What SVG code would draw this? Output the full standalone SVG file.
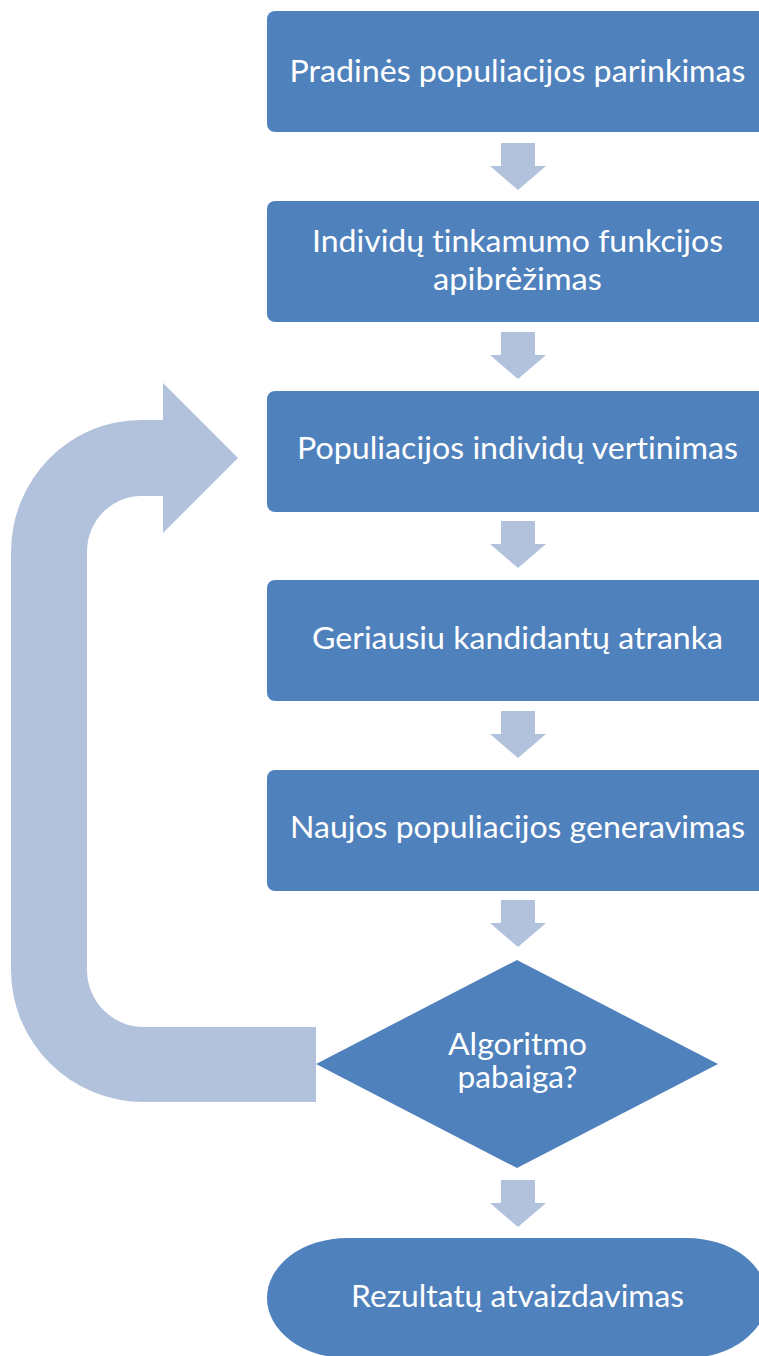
<svg xmlns="http://www.w3.org/2000/svg" width="759" height="1356" viewBox="0 0 759 1356">
<style>
.node{fill:#4F81BD}
.arr{fill:#B2C2DD}
.t{font-family:Lato,"Open Sans","Liberation Sans",sans-serif;font-size:30px;fill:#FFFFFF;text-anchor:middle;font-variant-ligatures:none}
</style>
<defs>
<path id="dn" d="M-17,0 H17 V23 H28 L0,47 L-28,23 H-17 Z"/>
</defs>
<rect width="759" height="1356" fill="#FFFFFF"/>
<g id="connectors">
<use href="#dn" class="arr" x="518" y="143"/>
<use href="#dn" class="arr" x="518" y="332"/>
<use href="#dn" class="arr" x="518" y="521"/>
<use href="#dn" class="arr" x="518" y="711"/>
<use href="#dn" class="arr" x="518" y="900"/>
<use href="#dn" class="arr" x="518" y="1180"/>
<path id="loop" class="arr" d="M316,1102 L144,1102 A133,132 0 0 1 11,970 L11,552 A130,132 0 0 1 141,420 L163,420 L163,383 L238,458 L163,533 L163,496 L141,496 A54,56 0 0 0 87,552 L87,970 A57,57 0 0 0 144,1027 L316,1027 Z"/>
</g>
<g id="n1">
<rect class="node" x="267" y="11" width="500" height="121" rx="8"/>
<text class="t" x="517.5" y="82" textLength="456" lengthAdjust="spacingAndGlyphs">Pradinės populiacijos parinkimas</text>
</g>
<g id="n2">
<rect class="node" x="267" y="201" width="500" height="121" rx="8"/>
<text class="t" x="517.5" y="252" textLength="411" lengthAdjust="spacingAndGlyphs">Individų tinkamumo funkcijos</text>
<text class="t" x="517.5" y="290" textLength="169" lengthAdjust="spacingAndGlyphs">apibrėžimas</text>
</g>
<g id="n3">
<rect class="node" x="267" y="391" width="500" height="121" rx="8"/>
<text class="t" x="517.5" y="459" textLength="441" lengthAdjust="spacingAndGlyphs">Populiacijos individų vertinimas</text>
</g>
<g id="n4">
<rect class="node" x="267" y="580" width="500" height="121" rx="8"/>
<text class="t" x="517.5" y="649" textLength="411" lengthAdjust="spacingAndGlyphs">Geriausiu kandidantų atranka</text>
</g>
<g id="n5">
<rect class="node" x="267" y="770" width="500" height="121" rx="8"/>
<text class="t" x="517.5" y="838" textLength="455" lengthAdjust="spacingAndGlyphs">Naujos populiacijos generavimas</text>
</g>
<g id="n6">
<polygon class="node" points="517,960 718,1064 517,1168 316,1064"/>
<text class="t" x="517.5" y="1055" textLength="139" lengthAdjust="spacingAndGlyphs">Algoritmo</text>
<text class="t" x="517.5" y="1088" textLength="120" lengthAdjust="spacingAndGlyphs">pabaiga?</text>
</g>
<g id="n7">
<rect class="node" x="267" y="1238" width="500" height="120" rx="80" ry="60"/>
<text class="t" x="517.5" y="1307" textLength="333" lengthAdjust="spacingAndGlyphs">Rezultatų atvaizdavimas</text>
</g>
</svg>
